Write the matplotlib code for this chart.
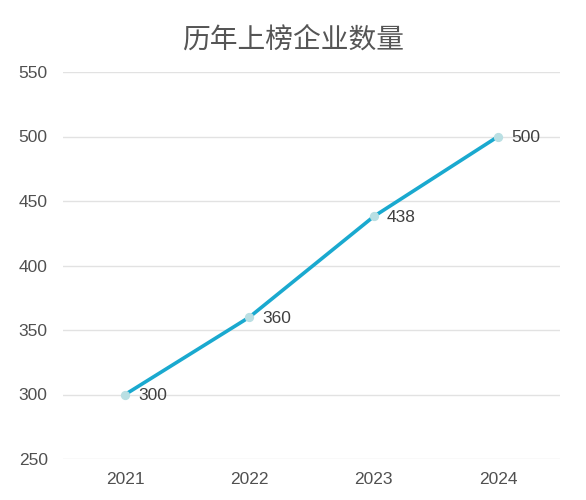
import matplotlib.pyplot as plt

plt.rcParams['font.family'] = ['Noto Sans CJK SC', 'DejaVu Sans']

years = ['2021', '2022', '2023', '2024']
counts = [300, 360, 438, 500]
y_ticks = [250, 300, 350, 400, 450, 500, 550]

fig = plt.figure(figsize=(5.86, 5.0), dpi=100)
ax = fig.add_axes([0.1075, 0.082, 0.8485, 0.774])

x = list(range(len(years)))
ax.plot(x, counts, color='#1aa9cf', linewidth=2.6, zorder=3)
ax.scatter(x, counts, s=32, color='#b9dfe3', zorder=4)

for xi, v in zip(x, counts):
    ax.annotate(str(v), (xi, v), xytext=(9.5, -1), textcoords='offset points',
                va='center', ha='left', fontsize=12.5, color='#404040',
                family=['Liberation Sans', 'DejaVu Sans'])

ax.set_xlim(-0.5, len(years) - 0.5)
ax.set_ylim(250, 550)
ax.set_xticks(x)
ax.set_xticklabels(years)
ax.set_yticks(y_ticks)
ax.grid(axis='y', color='#e2e2e2', linewidth=1)
ax.set_axisbelow(True)
for s in ax.spines.values():
    s.set_visible(False)
ax.tick_params(length=0, labelsize=12.5, labelcolor='#505050')
ax.tick_params(axis='x', pad=9)
ax.tick_params(axis='y', pad=11)
for lab in ax.get_xticklabels() + ax.get_yticklabels():
    lab.set_family(['Liberation Sans', 'DejaVu Sans'])

fig.text(0.5, 0.921, '历年上榜企业数量', ha='center', va='center',
         fontsize=20, color='#555555', fontweight='medium')

fig.savefig('out.png', dpi=100)
